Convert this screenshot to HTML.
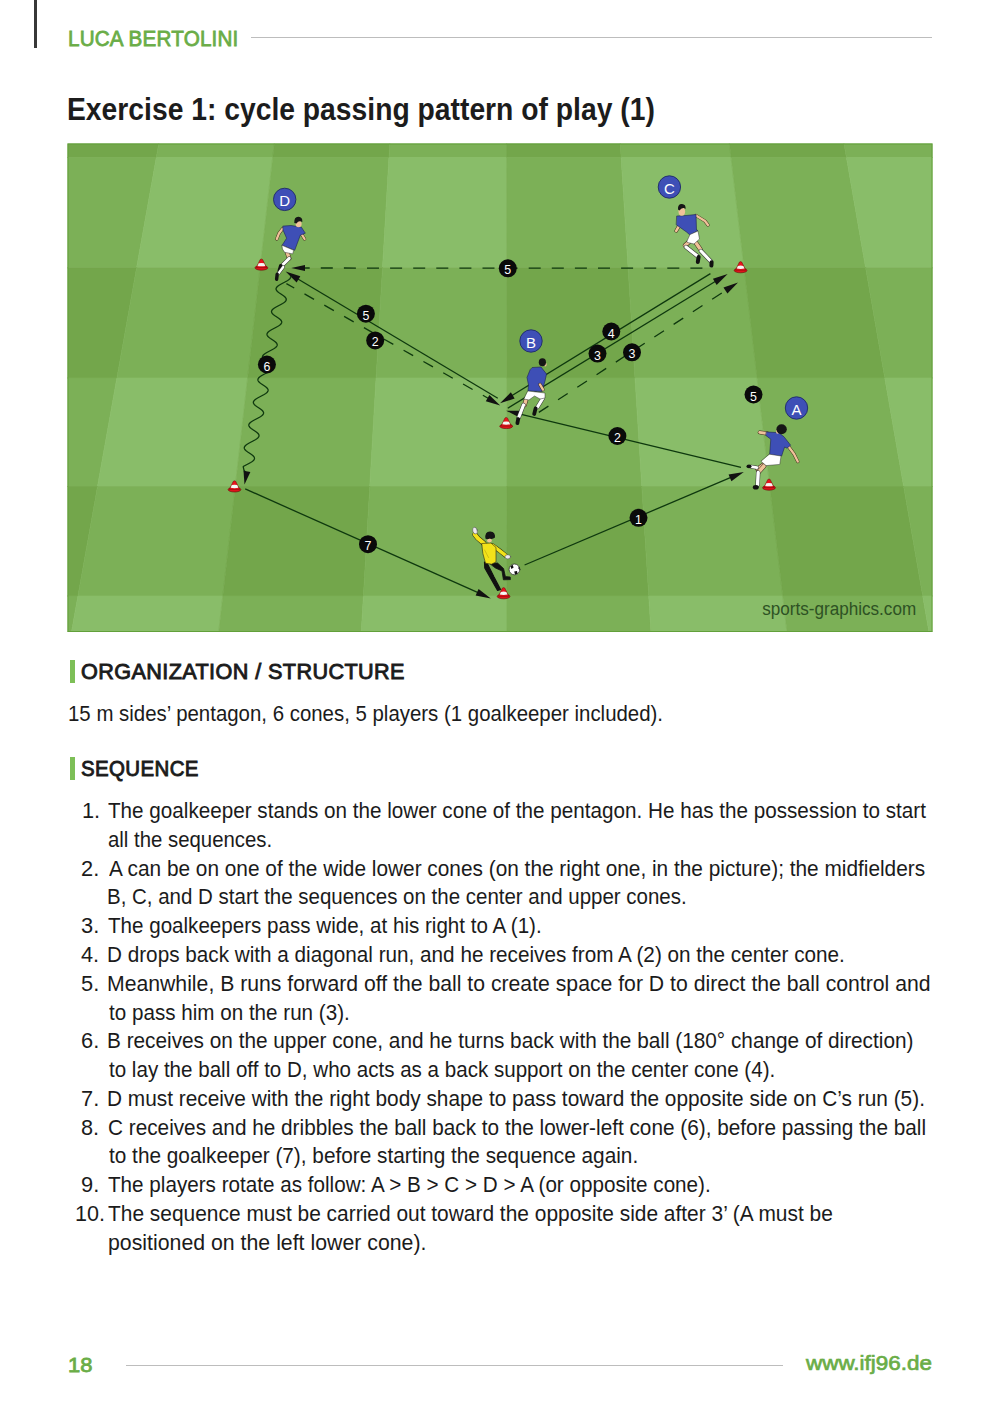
<!DOCTYPE html>
<html><head><meta charset="utf-8"><title>Exercise 1</title>
<style>
html,body{margin:0;padding:0;background:#fff;}
body{width:1000px;height:1428px;position:relative;overflow:hidden;font-family:"Liberation Sans",sans-serif;}
.t{position:absolute;white-space:nowrap;transform-origin:0 0;}
.bar{position:absolute;}
svg text{font-family:"Liberation Sans",sans-serif;}
</style></head><body>
<div class="bar" style="left:34.2px;top:0;width:2.8px;height:48px;background:#383838"></div>
<div class="t" style="left:67.50px;top:25.97px;font-size:22px;line-height:26px;font-weight:normal;color:#6aad47;transform:scaleX(0.9382);-webkit-text-stroke:0.8px #6aad47;letter-spacing:0.2px;">LUCA BERTOLINI</div>
<div class="bar" style="left:250.6px;top:36.7px;width:681.9px;height:1.6px;background:#bdbdbd"></div>
<div class="t" style="left:67.20px;top:90.95px;font-size:31px;line-height:37px;font-weight:bold;color:#1c1c1c;transform:scaleX(0.9122);">Exercise 1: cycle passing pattern of play (1)</div>
<svg style="position:absolute;left:0;top:0" width="1000" height="640" viewBox="0 0 1000 640">
<clipPath id="fc"><rect x="67.5" y="143.5" width="865.0" height="488.5"/></clipPath>
<g clip-path="url(#fc)">
<polygon fill="#73a64b" stroke="#73a64b" stroke-width="0.7" points="37.50,143.50 158.80,143.50 156.30,157.50 37.50,157.50"/>
<polygon fill="#7cb057" stroke="#7cb057" stroke-width="0.7" points="158.80,143.50 274.30,143.50 272.71,157.50 156.30,157.50"/>
<polygon fill="#73a64b" stroke="#73a64b" stroke-width="0.7" points="274.30,143.50 389.80,143.50 388.98,157.50 272.71,157.50"/>
<polygon fill="#7cb057" stroke="#7cb057" stroke-width="0.7" points="389.80,143.50 506.60,143.50 506.61,157.50 388.98,157.50"/>
<polygon fill="#73a64b" stroke="#73a64b" stroke-width="0.7" points="506.60,143.50 620.30,143.50 621.18,157.50 506.61,157.50"/>
<polygon fill="#7cb057" stroke="#7cb057" stroke-width="0.7" points="620.30,143.50 729.40,143.50 731.05,157.50 621.18,157.50"/>
<polygon fill="#73a64b" stroke="#73a64b" stroke-width="0.7" points="729.40,143.50 844.00,143.50 846.44,157.50 731.05,157.50"/>
<polygon fill="#7cb057" stroke="#7cb057" stroke-width="0.7" points="844.00,143.50 962.50,143.50 962.50,157.50 846.44,157.50"/>
<polygon fill="#7cb057" stroke="#7cb057" stroke-width="0.7" points="37.50,157.50 156.30,157.50 136.59,267.80 37.50,267.80"/>
<polygon fill="#89bd69" stroke="#89bd69" stroke-width="0.7" points="156.30,157.50 272.71,157.50 260.15,267.80 136.59,267.80"/>
<polygon fill="#7cb057" stroke="#7cb057" stroke-width="0.7" points="272.71,157.50 388.98,157.50 382.55,267.80 260.15,267.80"/>
<polygon fill="#89bd69" stroke="#89bd69" stroke-width="0.7" points="388.98,157.50 506.61,157.50 506.70,267.80 382.55,267.80"/>
<polygon fill="#7cb057" stroke="#7cb057" stroke-width="0.7" points="506.61,157.50 621.18,157.50 628.11,267.80 506.70,267.80"/>
<polygon fill="#89bd69" stroke="#89bd69" stroke-width="0.7" points="621.18,157.50 731.05,157.50 744.06,267.80 628.11,267.80"/>
<polygon fill="#7cb057" stroke="#7cb057" stroke-width="0.7" points="731.05,157.50 846.44,157.50 865.63,267.80 744.06,267.80"/>
<polygon fill="#89bd69" stroke="#89bd69" stroke-width="0.7" points="846.44,157.50 962.50,157.50 962.50,267.80 865.63,267.80"/>
<polygon fill="#73a64b" stroke="#73a64b" stroke-width="0.7" points="37.50,267.80 136.59,267.80 116.89,378.00 37.50,378.00"/>
<polygon fill="#7cb057" stroke="#7cb057" stroke-width="0.7" points="136.59,267.80 260.15,267.80 247.61,378.00 116.89,378.00"/>
<polygon fill="#73a64b" stroke="#73a64b" stroke-width="0.7" points="260.15,267.80 382.55,267.80 376.12,378.00 247.61,378.00"/>
<polygon fill="#7cb057" stroke="#7cb057" stroke-width="0.7" points="382.55,267.80 506.70,267.80 506.79,378.00 376.12,378.00"/>
<polygon fill="#73a64b" stroke="#73a64b" stroke-width="0.7" points="506.70,267.80 628.11,267.80 635.04,378.00 506.79,378.00"/>
<polygon fill="#7cb057" stroke="#7cb057" stroke-width="0.7" points="628.11,267.80 744.06,267.80 757.05,378.00 635.04,378.00"/>
<polygon fill="#73a64b" stroke="#73a64b" stroke-width="0.7" points="744.06,267.80 865.63,267.80 884.80,378.00 757.05,378.00"/>
<polygon fill="#7cb057" stroke="#7cb057" stroke-width="0.7" points="865.63,267.80 962.50,267.80 962.50,378.00 884.80,378.00"/>
<polygon fill="#7cb057" stroke="#7cb057" stroke-width="0.7" points="37.50,378.00 116.89,378.00 97.50,486.50 37.50,486.50"/>
<polygon fill="#89bd69" stroke="#89bd69" stroke-width="0.7" points="116.89,378.00 247.61,378.00 235.26,486.50 97.50,486.50"/>
<polygon fill="#7cb057" stroke="#7cb057" stroke-width="0.7" points="247.61,378.00 376.12,378.00 369.79,486.50 235.26,486.50"/>
<polygon fill="#89bd69" stroke="#89bd69" stroke-width="0.7" points="376.12,378.00 506.79,378.00 506.88,486.50 369.79,486.50"/>
<polygon fill="#7cb057" stroke="#7cb057" stroke-width="0.7" points="506.79,378.00 635.04,378.00 641.86,486.50 506.88,486.50"/>
<polygon fill="#89bd69" stroke="#89bd69" stroke-width="0.7" points="635.04,378.00 757.05,378.00 769.84,486.50 641.86,486.50"/>
<polygon fill="#7cb057" stroke="#7cb057" stroke-width="0.7" points="757.05,378.00 884.80,378.00 903.68,486.50 769.84,486.50"/>
<polygon fill="#89bd69" stroke="#89bd69" stroke-width="0.7" points="884.80,378.00 962.50,378.00 962.50,486.50 903.68,486.50"/>
<polygon fill="#73a64b" stroke="#73a64b" stroke-width="0.7" points="37.50,486.50 97.50,486.50 77.93,596.00 37.50,596.00"/>
<polygon fill="#7cb057" stroke="#7cb057" stroke-width="0.7" points="97.50,486.50 235.26,486.50 222.80,596.00 77.93,596.00"/>
<polygon fill="#73a64b" stroke="#73a64b" stroke-width="0.7" points="235.26,486.50 369.79,486.50 363.40,596.00 222.80,596.00"/>
<polygon fill="#7cb057" stroke="#7cb057" stroke-width="0.7" points="369.79,486.50 506.88,486.50 506.97,596.00 363.40,596.00"/>
<polygon fill="#73a64b" stroke="#73a64b" stroke-width="0.7" points="506.88,486.50 641.86,486.50 648.74,596.00 506.97,596.00"/>
<polygon fill="#7cb057" stroke="#7cb057" stroke-width="0.7" points="641.86,486.50 769.84,486.50 782.76,596.00 648.74,596.00"/>
<polygon fill="#73a64b" stroke="#73a64b" stroke-width="0.7" points="769.84,486.50 903.68,486.50 922.74,596.00 782.76,596.00"/>
<polygon fill="#7cb057" stroke="#7cb057" stroke-width="0.7" points="903.68,486.50 962.50,486.50 962.50,596.00 922.74,596.00"/>
<polygon fill="#7cb057" stroke="#7cb057" stroke-width="0.7" points="37.50,596.00 77.93,596.00 71.50,632.00 37.50,632.00"/>
<polygon fill="#89bd69" stroke="#89bd69" stroke-width="0.7" points="77.93,596.00 222.80,596.00 218.70,632.00 71.50,632.00"/>
<polygon fill="#7cb057" stroke="#7cb057" stroke-width="0.7" points="222.80,596.00 363.40,596.00 361.30,632.00 218.70,632.00"/>
<polygon fill="#89bd69" stroke="#89bd69" stroke-width="0.7" points="363.40,596.00 506.97,596.00 507.00,632.00 361.30,632.00"/>
<polygon fill="#7cb057" stroke="#7cb057" stroke-width="0.7" points="506.97,596.00 648.74,596.00 651.00,632.00 507.00,632.00"/>
<polygon fill="#89bd69" stroke="#89bd69" stroke-width="0.7" points="648.74,596.00 782.76,596.00 787.00,632.00 651.00,632.00"/>
<polygon fill="#7cb057" stroke="#7cb057" stroke-width="0.7" points="782.76,596.00 922.74,596.00 929.00,632.00 787.00,632.00"/>
<polygon fill="#89bd69" stroke="#89bd69" stroke-width="0.7" points="922.74,596.00 962.50,596.00 962.50,632.00 929.00,632.00"/>
</g>
<rect x="68.0" y="144.0" width="864.0" height="487.5" fill="none" stroke="#62a03a" stroke-width="1"/><line x1="297.70" y1="268.00" x2="702.40" y2="268.20" stroke="#0e380e" stroke-width="1.3" stroke-dasharray="12 11.1"/>
<polygon fill="#111" points="291.20,267.90 305.00,264.90 305.00,270.90"/>
<line x1="295.00" y1="277.20" x2="497.80" y2="398.20" stroke="#0e380e" stroke-width="1.3"/>
<polygon fill="#111" points="285.60,271.60 300.33,276.19 296.64,282.38"/>
<line x1="286.4" y1="283.6" x2="491.5" y2="400.2" stroke="#0e380e" stroke-width="1.3" stroke-dasharray="11 11.8" stroke-dashoffset="2"/>
<polygon fill="#111" points="500.20,405.40 485.82,401.35 489.38,395.09"/>
<line x1="710.40" y1="273.60" x2="508.00" y2="398.00" stroke="#0e380e" stroke-width="1.3"/>
<polygon fill="#111" points="500.00,403.30 510.88,392.36 514.66,398.49"/>
<line x1="507.80" y1="408.20" x2="716.00" y2="281.00" stroke="#0e380e" stroke-width="1.3"/>
<polygon fill="#111" points="727.60,274.00 716.67,284.89 712.92,278.74"/>
<line x1="538.8" y1="412.4" x2="726.0" y2="290.2" stroke="#0e380e" stroke-width="1.3" stroke-dasharray="11.5 11.5" stroke-dashoffset="0"/>
<polygon fill="#111" points="738.00,282.40 727.41,293.61 723.47,287.58"/>
<line x1="741.00" y1="467.40" x2="515.00" y2="412.80" stroke="#0e380e" stroke-width="1.3"/>
<polygon fill="#111" points="506.20,410.70 521.63,410.72 519.94,417.72"/>
<line x1="524.60" y1="565.00" x2="735.00" y2="475.70" stroke="#0e380e" stroke-width="1.3"/>
<polygon fill="#111" points="743.80,472.00 731.40,481.17 728.59,474.54"/>
<line x1="245.20" y1="488.90" x2="482.00" y2="594.40" stroke="#0e380e" stroke-width="1.3"/>
<polygon fill="#111" points="490.80,598.40 475.63,595.58 478.57,589.00"/>
<path d="M290.69,276.00 L290.80,276.50 L290.79,277.00 L290.67,277.50 L290.43,278.00 L290.07,278.50 L289.60,279.00 L289.03,279.50 L288.37,280.00 L287.62,280.50 L286.80,281.00 L285.92,281.50 L285.00,282.00 L284.06,282.50 L283.10,283.00 L282.15,283.50 L281.22,284.00 L280.33,284.50 L279.49,285.00 L278.72,285.50 L278.03,286.00 L277.43,286.50 L276.93,287.00 L276.54,287.50 L276.26,288.00 L276.10,288.50 L276.06,289.00 L276.14,289.50 L276.33,290.00 L276.63,290.50 L277.03,291.00 L277.52,291.50 L278.09,292.00 L278.73,292.50 L279.42,293.00 L280.15,293.50 L280.90,294.00 L281.66,294.50 L282.40,295.00 L283.12,295.50 L283.80,296.00 L284.42,296.50 L284.97,297.00 L285.43,297.50 L285.80,298.00 L286.07,298.50 L286.23,299.00 L286.27,299.50 L286.19,300.00 L286.00,300.50 L285.69,301.00 L285.26,301.50 L284.73,302.00 L284.11,302.50 L283.39,303.00 L282.60,303.50 L281.74,304.00 L280.84,304.50 L279.90,305.00 L278.94,305.50 L277.99,306.00 L277.05,306.50 L276.14,307.00 L275.28,307.50 L274.48,308.00 L273.75,308.50 L273.11,309.00 L272.57,309.50 L272.14,310.00 L271.82,310.50 L271.61,311.00 L271.52,311.50 L271.55,312.00 L271.70,312.50 L271.95,313.00 L272.31,313.50 L272.77,314.00 L273.31,314.50 L273.92,315.00 L274.60,315.50 L275.31,316.00 L276.06,316.50 L276.81,317.00 L277.57,317.50 L278.30,318.00 L279.00,318.50 L279.64,319.00 L280.22,319.50 L280.72,320.00 L281.13,320.50 L281.44,321.00 L281.64,321.50 L281.73,322.00 L281.70,322.50 L281.55,323.00 L281.29,323.50 L280.91,324.00 L280.42,324.50 L279.83,325.00 L279.15,325.50 L278.38,326.00 L277.55,326.50 L276.66,327.00 L275.74,327.50 L274.79,328.00 L273.83,328.50 L272.88,329.00 L271.96,329.50 L271.07,330.00 L270.25,330.50 L269.49,331.00 L268.82,331.50 L268.24,332.00 L267.76,332.50 L267.39,333.00 L267.14,333.50 L267.00,334.00 L266.99,334.50 L267.09,335.00 L267.30,335.50 L267.62,336.00 L268.04,336.50 L268.55,337.00 L269.13,337.50 L269.78,338.00 L270.48,338.50 L271.22,339.00 L271.97,339.50 L272.73,340.00 L273.47,340.50 L274.18,341.00 L274.85,341.50 L275.46,342.00 L275.99,342.50 L276.44,343.00 L276.79,343.50 L277.03,344.00 L277.17,344.50 L277.19,345.00 L277.09,345.50 L276.87,346.00 L276.53,346.50 L276.09,347.00 L275.54,347.50 L274.89,348.00 L274.16,348.50 L273.35,349.00 L272.48,349.50 L271.57,350.00 L270.63,350.50 L269.67,351.00 L268.72,351.50 L267.78,352.00 L266.88,352.50 L266.03,353.00 L265.25,353.50 L264.54,354.00 L263.92,354.50 L263.40,355.00 L262.99,355.50 L262.69,356.00 L262.50,356.50 L262.44,357.00 L262.49,357.50 L262.66,358.00 L262.94,358.50 L263.32,359.00 L263.79,359.50 L264.35,360.00 L264.97,360.50 L265.66,361.00 L266.38,361.50 L267.13,362.00 L267.89,362.50 L268.64,363.00 L269.36,363.50 L270.05,364.00 L270.68,364.50 L271.25,365.00 L271.73,365.50 L272.12,366.00 L272.41,366.50 L272.59,367.00 L272.65,367.50 L272.60,368.00 L272.43,368.50 L272.14,369.00 L271.74,369.50 L271.23,370.00 L270.62,370.50 L269.92,371.00 L269.14,371.50 L268.30,372.00 L267.40,372.50 L266.47,373.00 L265.51,373.50 L264.56,374.00 L263.61,374.50 L262.70,375.00 L261.82,375.50 L261.01,376.00 L260.27,376.50 L259.61,377.00 L259.05,377.50 L258.60,378.00 L258.25,378.50 L258.02,379.00 L257.91,379.50 L257.92,380.00 L258.04,380.50 L258.27,381.00 L258.61,381.50 L259.05,382.00 L259.58,382.50 L260.18,383.00 L260.84,383.50 L261.55,384.00 L262.29,384.50 L263.04,385.00 L263.80,385.50 L264.54,386.00 L265.24,386.50 L265.90,387.00 L266.49,387.50 L267.01,388.00 L267.43,388.50 L267.76,389.00 L267.99,389.50 L268.10,390.00 L268.09,390.50 L267.97,391.00 L267.73,391.50 L267.37,392.00 L266.90,392.50 L266.33,393.00 L265.67,393.50 L264.92,394.00 L264.10,394.50 L263.22,395.00 L262.30,395.50 L261.36,396.00 L260.40,396.50 L259.45,397.00 L258.52,397.50 L257.63,398.00 L256.79,398.50 L256.02,399.00 L255.33,399.50 L254.73,400.00 L254.23,400.50 L253.84,401.00 L253.56,401.50 L253.40,402.00 L253.36,402.50 L253.44,403.00 L253.63,403.50 L253.93,404.00 L254.33,404.50 L254.82,405.00 L255.39,405.50 L256.03,406.00 L256.72,406.50 L257.45,407.00 L258.20,407.50 L258.96,408.00 L259.70,408.50 L260.42,409.00 L261.10,409.50 L261.72,410.00 L262.27,410.50 L262.73,411.00 L263.10,411.50 L263.37,412.00 L263.53,412.50 L263.57,413.00 L263.49,413.50 L263.30,414.00 L262.99,414.50 L262.56,415.00 L262.03,415.50 L261.41,416.00 L260.69,416.50 L259.90,417.00 L259.04,417.50 L258.14,418.00 L257.20,418.50 L256.24,419.00 L255.29,419.50 L254.35,420.00 L253.44,420.50 L252.58,421.00 L251.78,421.50 L251.05,422.00 L250.41,422.50 L249.87,423.00 L249.44,423.50 L249.12,424.00 L248.91,424.50 L248.82,425.00 L248.85,425.50 L249.00,426.00 L249.25,426.50 L249.61,427.00 L250.07,427.50 L250.61,428.00 L251.22,428.50 L251.90,429.00 L252.61,429.50 L253.36,430.00 L254.11,430.50 L254.87,431.00 L255.60,431.50 L256.30,432.00 L256.94,432.50 L257.52,433.00 L258.02,433.50 L258.43,434.00 L258.74,434.50 L258.94,435.00 L259.03,435.50 L259.00,436.00 L258.85,436.50 L258.59,437.00 L258.21,437.50 L257.72,438.00 L257.13,438.50 L256.45,439.00 L255.68,439.50 L254.85,440.00 L253.96,440.50 L253.04,441.00 L252.09,441.50 L251.13,442.00 L250.18,442.50 L249.26,443.00 L248.37,443.50 L247.55,444.00 L246.79,444.50 L246.12,445.00 L245.54,445.50 L245.06,446.00 L244.69,446.50 L244.44,447.00 L244.30,447.50 L244.29,448.00 L244.39,448.50 L244.60,449.00 L244.92,449.50 L245.34,450.00 L245.85,450.50 L246.43,451.00 L247.08,451.50 L247.78,452.00 L248.52,452.50 L249.27,453.00 L250.03,453.50 L250.77,454.00 L251.48,454.50 L252.15,455.00 L252.76,455.50 L253.29,456.00 L253.74,456.50 L254.09,457.00 L254.33,457.50 L254.47,458.00 L254.49,458.50 L254.39,459.00 L254.17,459.50 L253.83,460.00 L253.39,460.50 L252.84,461.00 L252.19,461.50 L251.46,462.00 L250.65,462.50 L249.78,463.00 L248.87,463.50 L247.93,464.00 L246.97,464.50 L246.02,465.00 L245.08,465.50 L244.18,466.00 L243.33,466.50 Q243,470 246.2,473" fill="none" stroke="#0e380e" stroke-width="1.3"/><polygon fill="#111" points="244.50,484.60 243.50,470.69 250.38,471.96"/>
<g><ellipse cx="261.40" cy="267.80" rx="6.40" ry="2.4" fill="#e0121a" stroke="#6a0808" stroke-width="0.6"/><path d="M256.28,267.60 L260.20,259.50 Q261.40,258.50 262.60,259.50 L266.52,267.60 Z" fill="#e8141c" stroke="#6a0808" stroke-width="0.5"/><path d="M257.50,265.90 L258.70,263.30 Q261.40,262.70 264.10,263.30 L265.30,265.90 Q261.40,266.80 257.50,265.90 Z" fill="#f4f8f4"/></g>
<g><ellipse cx="740.60" cy="270.40" rx="6.40" ry="2.4" fill="#e0121a" stroke="#6a0808" stroke-width="0.6"/><path d="M735.48,270.20 L739.40,262.10 Q740.60,261.10 741.80,262.10 L745.72,270.20 Z" fill="#e8141c" stroke="#6a0808" stroke-width="0.5"/><path d="M736.70,268.50 L737.90,265.90 Q740.60,265.30 743.30,265.90 L744.50,268.50 Q740.60,269.40 736.70,268.50 Z" fill="#f4f8f4"/></g>
<g><ellipse cx="506.20" cy="426.20" rx="6.40" ry="2.4" fill="#e0121a" stroke="#6a0808" stroke-width="0.6"/><path d="M501.08,426.00 L505.00,417.90 Q506.20,416.90 507.40,417.90 L511.32,426.00 Z" fill="#e8141c" stroke="#6a0808" stroke-width="0.5"/><path d="M502.30,424.30 L503.50,421.70 Q506.20,421.10 508.90,421.70 L510.10,424.30 Q506.20,425.20 502.30,424.30 Z" fill="#f4f8f4"/></g>
<g><ellipse cx="769.00" cy="487.80" rx="6.40" ry="2.4" fill="#e0121a" stroke="#6a0808" stroke-width="0.6"/><path d="M763.88,487.60 L767.80,479.50 Q769.00,478.50 770.20,479.50 L774.12,487.60 Z" fill="#e8141c" stroke="#6a0808" stroke-width="0.5"/><path d="M765.10,485.90 L766.30,483.30 Q769.00,482.70 771.70,483.30 L772.90,485.90 Q769.00,486.80 765.10,485.90 Z" fill="#f4f8f4"/></g>
<g><ellipse cx="234.50" cy="489.60" rx="6.40" ry="2.4" fill="#e0121a" stroke="#6a0808" stroke-width="0.6"/><path d="M229.38,489.40 L233.30,481.30 Q234.50,480.30 235.70,481.30 L239.62,489.40 Z" fill="#e8141c" stroke="#6a0808" stroke-width="0.5"/><path d="M230.60,487.70 L231.80,485.10 Q234.50,484.50 237.20,485.10 L238.40,487.70 Q234.50,488.60 230.60,487.70 Z" fill="#f4f8f4"/></g>
<g><ellipse cx="503.60" cy="596.40" rx="6.40" ry="2.4" fill="#e0121a" stroke="#6a0808" stroke-width="0.6"/><path d="M498.48,596.20 L502.40,588.10 Q503.60,587.10 504.80,588.10 L508.72,596.20 Z" fill="#e8141c" stroke="#6a0808" stroke-width="0.5"/><path d="M499.70,594.50 L500.90,591.90 Q503.60,591.30 506.30,591.90 L507.50,594.50 Q503.60,595.40 499.70,594.50 Z" fill="#f4f8f4"/></g>
<g stroke-linejoin="round" stroke-linecap="round">
<!-- Player D -->
<g>
<path d="M287,252 L289.2,258.4" stroke="#3b2a1a" stroke-width="4.4"/>
<path d="M287,252 L289.2,258.4" stroke="#f0c29a" stroke-width="3.4"/>
<path d="M289.2,258.4 L281,266.5" stroke="#333" stroke-width="4"/>
<path d="M289.2,258.4 L281,266.5" stroke="#fff" stroke-width="3"/>
<path d="M280.8,265.8 L279.3,270.8" stroke="#111" stroke-width="3.6"/>
<path d="M283.2,267 L277.6,274.6" stroke="#333" stroke-width="3.4"/>
<path d="M283.2,267 L277.6,274.6" stroke="#fff" stroke-width="2.4"/>
<path d="M277.2,274.2 L276.6,279.2" stroke="#111" stroke-width="3.4"/>
<path d="M282.6,228.6 L279.1,233.2 L276.8,239" fill="none" stroke="#3b2a1a" stroke-width="3.2"/>
<path d="M282.6,228.6 L279.1,233.2 L276.8,239" fill="none" stroke="#f0c29a" stroke-width="2.3"/>
<path d="M301.3,233.7 L304.6,239" stroke="#3b2a1a" stroke-width="3.2"/>
<path d="M301.3,233.7 L304.6,239" stroke="#f0c29a" stroke-width="2.3"/>
<path d="M283.1,226.1 L291,225.5 L301.3,227.1 L305.3,233.2 L300.3,235.2 L294.7,250.3 L282.1,245.3 L286.6,238.2 L283.1,230.2 Z" fill="#3e4fb6" stroke="#1d2250" stroke-width="0.6"/>
<path d="M282.1,245.3 L293.7,250.3 L292.7,253.9 L284.6,252.3 L282.6,249.3 Z" fill="#fff" stroke="#333" stroke-width="0.5"/>
<ellipse cx="298.6" cy="224" rx="3" ry="3.3" fill="#f0c29a"/>
<path d="M294.3,223 Q294,216.6 298.5,216.8 Q302.8,217 302.3,222 L300.5,221.2 Q298,220.8 296.5,223.6 Z" fill="#161616"/>
</g>
<!-- Player C -->
<g>
<path d="M690,241 L685,245.5" stroke="#3b2a1a" stroke-width="4.4"/>
<path d="M690,241 L685,245.5" stroke="#f0c29a" stroke-width="3.4"/>
<path d="M686,247 L698,256.5" stroke="#333" stroke-width="4.2"/>
<path d="M686,247 L698,256.5" stroke="#fff" stroke-width="3.2"/>
<path d="M698.6,257 L697.8,262" stroke="#111" stroke-width="4"/>
<path d="M696,243 L700.5,249.5" stroke="#3b2a1a" stroke-width="4.4"/>
<path d="M696,243 L700.5,249.5" stroke="#f0c29a" stroke-width="3.4"/>
<path d="M701,251 L711,261.5" stroke="#333" stroke-width="4.2"/>
<path d="M701,251 L711,261.5" stroke="#fff" stroke-width="3.2"/>
<path d="M711.6,262.2 L711.4,265.6" stroke="#111" stroke-width="4"/>
<path d="M696,215.5 L705,221 L708,225" fill="none" stroke="#3b2a1a" stroke-width="3.2"/>
<path d="M696,215.5 L705,221 L708,225" fill="none" stroke="#f0c29a" stroke-width="2.3"/>
<path d="M679,226 L676.2,230.8" stroke="#3b2a1a" stroke-width="3.6"/>
<path d="M679,226 L676.2,230.8" stroke="#f0c29a" stroke-width="2.6"/>
<path d="M677,216 L686,215.5 L696,214.5 L696.5,230 L698,230.5 L690,235 L686.5,232 L679.5,227 L676.5,225 Z" fill="#3e4fb6" stroke="#1d2250" stroke-width="0.6"/>
<path d="M687,241 L690,234.5 L698,231 L699.5,239 L694,244 L687.5,242.5 Z" fill="#fff" stroke="#333" stroke-width="0.5"/>
<ellipse cx="681.8" cy="211.6" rx="3.3" ry="4.2" fill="#f0c29a"/>
<path d="M678,209.5 Q677.6,203.8 682,204 Q686,204.2 685.6,209 L684,208 Q681,207.6 679.6,210.6 Z" fill="#161616"/>
</g>
<!-- Player B -->
<g>
<path d="M526,400 L524.5,405" stroke="#3b2a1a" stroke-width="4.4"/>
<path d="M526,400 L524.5,405" stroke="#f0c29a" stroke-width="3.4"/>
<path d="M523.5,405 L518.5,418" stroke="#333" stroke-width="4.2"/>
<path d="M523.5,405 L518.5,418" stroke="#fff" stroke-width="3.2"/>
<path d="M518.2,419 L517.4,423.2" stroke="#111" stroke-width="3.8"/>
<path d="M543,398 L537.5,407" stroke="#333" stroke-width="4.2"/>
<path d="M543,398 L537.5,407" stroke="#fff" stroke-width="3.2"/>
<path d="M535.6,408.4 L534.2,414" stroke="#111" stroke-width="3.8"/>
<path d="M532.5,367.5 L541,367 L546.5,374 L545,381 L542,391.5 L528,391 L528.5,385 L527,377.5 L530,370 Z" fill="#3e4fb6" stroke="#1d2250" stroke-width="0.6"/>
<path d="M540,384.5 L543,389.6" stroke="#3b2a1a" stroke-width="3.4"/>
<path d="M540,384.5 L543,389.6" stroke="#f0c29a" stroke-width="2.4"/>
<path d="M528,391 L545,393 L545,398 L540,399 L534.5,396 L529,400 L524,399 Z" fill="#fff" stroke="#333" stroke-width="0.5"/>
<ellipse cx="545.2" cy="364.5" rx="1.4" ry="2" fill="#f0c29a"/>
<ellipse cx="542.4" cy="362.2" rx="3.6" ry="4" fill="#161616"/>
</g>
<!-- Player A -->
<g>
<path d="M763,465 L757.5,469" stroke="#3b2a1a" stroke-width="4.4"/>
<path d="M763,465 L757.5,469" stroke="#f0c29a" stroke-width="3.4"/>
<path d="M757,467.6 L751,466.6" stroke="#333" stroke-width="3.6"/>
<path d="M757,467.6 L751,466.6" stroke="#fff" stroke-width="2.6"/>
<ellipse cx="749" cy="466.4" rx="2.6" ry="1.8" fill="#111"/>
<path d="M764,466 L758.6,472" stroke="#3b2a1a" stroke-width="4.6"/>
<path d="M764,466 L758.6,472" stroke="#f0c29a" stroke-width="3.6"/>
<path d="M758.2,472.5 L757.6,484.6" stroke="#333" stroke-width="4.4"/>
<path d="M758.2,472.5 L757.6,484.6" stroke="#fff" stroke-width="3.4"/>
<ellipse cx="755.8" cy="487.2" rx="3" ry="2.3" fill="#111"/>
<path d="M767.5,433.5 L759.6,432.4" stroke="#3b2a1a" stroke-width="3.8"/>
<path d="M767.5,433.5 L759.6,432.4" stroke="#f0c29a" stroke-width="2.8"/>
<path d="M788.5,446.5 L794,454 L797.8,461.6" fill="none" stroke="#3b2a1a" stroke-width="3.2"/>
<path d="M788.5,446.5 L794,454 L797.8,461.6" fill="none" stroke="#f0c29a" stroke-width="2.3"/>
<path d="M766.6,432 L778.6,432.6 L784,436.8 L790.6,445.2 L787,448.2 L784.6,447 L781.6,456 L769.6,454.8 L770.8,439.2 L766,435.6 Z" fill="#3e4fb6" stroke="#1d2250" stroke-width="0.6"/>
<path d="M769.6,454.2 L781,456 L779.8,464.4 L766,465.6 L761.2,461.4 Z" fill="#fff" stroke="#333" stroke-width="0.5"/>
<ellipse cx="777.6" cy="431.5" rx="1.6" ry="2.2" fill="#f0c29a"/>
<ellipse cx="781.6" cy="429.2" rx="5.2" ry="5" fill="#161616"/>
</g>
<!-- GK -->
<g>
<path d="M484.5,562 L487.5,564 L494,577 L500.6,589.5 L497.6,590.5 L490.5,578 L484.8,568 Z" fill="#111" stroke="#111" stroke-width="1.2"/>
<path d="M490,563.5 L497.5,563 L503.6,568.6 L505.4,576.6 L510.2,577 L510.4,579.6 L503.4,579.8 L502,571 L495.5,568 Z" fill="#111" stroke="#111" stroke-width="0.8"/>
<path d="M484,543.5 L477.8,538.2 L474.8,534.4" fill="none" stroke="#2c2a10" stroke-width="5"/>
<path d="M484,543.5 L477.8,538.2 L474.8,534.4" fill="none" stroke="#f2e21a" stroke-width="4"/>
<path d="M492.5,545.5 L499.5,550.6 L505.6,555.4" fill="none" stroke="#2c2a10" stroke-width="4.4"/>
<path d="M492.5,545.5 L499.5,550.6 L505.6,555.4" fill="none" stroke="#f2e21a" stroke-width="3.5"/>
<path d="M482,543.5 L491,543 L496,547.5 L496,562 L491.5,564.2 L485.5,563.2 L483,554 Z" fill="#f2e21a" stroke="#2c2a10" stroke-width="0.6"/>
<path d="M484.6,550 L488.6,557.6" stroke="#b8a410" stroke-width="0.6"/>
<ellipse cx="475" cy="530.6" rx="2.3" ry="3.4" fill="#eceaf0" stroke="#444" stroke-width="0.5" transform="rotate(-15 475 530.6)"/>
<ellipse cx="507.8" cy="556.8" rx="2.8" ry="2.1" fill="#eceaf0" stroke="#444" stroke-width="0.5"/>
<ellipse cx="489.4" cy="540.6" rx="2.4" ry="2" fill="#f0c29a"/>
<path d="M485.4,538.6 Q484.6,531 490.4,531.4 Q495.6,531.8 495,537.6 Q492.5,539.6 489.5,538.6 Q487.5,539.8 485.4,538.6 Z" fill="#161616"/>
<circle cx="514.5" cy="569.4" r="5.4" fill="#fff" stroke="#222" stroke-width="0.7"/>
<path d="M510.4,566.2 L512.6,564.8 L513.6,567.4 L511.4,569 Z" fill="#111"/>
<path d="M514.2,571.6 L517,571 L517.6,573.8 L515,574.6 Z M518.6,566.6 L519.8,567.4 L519.6,569.6 L518.4,568.8 Z" fill="#111"/>
</g>
</g>

<circle cx="284.7" cy="199.4" r="11.2" fill="#3e4fb6" stroke="#1f2a66" stroke-width="0.9"/><text x="284.7" y="206.20" font-size="15" fill="#fff" text-anchor="middle">D</text>
<circle cx="669.4" cy="187.0" r="11.2" fill="#3e4fb6" stroke="#1f2a66" stroke-width="0.9"/><text x="669.4" y="193.80" font-size="15" fill="#fff" text-anchor="middle">C</text>
<circle cx="531.0" cy="341.0" r="11.2" fill="#3e4fb6" stroke="#1f2a66" stroke-width="0.9"/><text x="531.0" y="347.80" font-size="15" fill="#fff" text-anchor="middle">B</text>
<circle cx="796.5" cy="408.0" r="11.2" fill="#3e4fb6" stroke="#1f2a66" stroke-width="0.9"/><text x="796.5" y="414.80" font-size="15" fill="#fff" text-anchor="middle">A</text>
<circle cx="507.8" cy="268.3" r="9" fill="#0a0a0a"/><text x="507.8" y="274.30" font-size="12.4" fill="#fff" text-anchor="middle">5</text>
<circle cx="365.9" cy="313.7" r="9" fill="#0a0a0a"/><text x="365.9" y="319.70" font-size="12.4" fill="#fff" text-anchor="middle">5</text>
<circle cx="375.2" cy="340.4" r="9" fill="#0a0a0a"/><text x="375.2" y="346.40" font-size="12.4" fill="#fff" text-anchor="middle">2</text>
<circle cx="266.9" cy="364.5" r="9" fill="#0a0a0a"/><text x="266.9" y="370.50" font-size="12.4" fill="#fff" text-anchor="middle">6</text>
<circle cx="611.3" cy="331.5" r="9" fill="#0a0a0a"/><text x="611.3" y="337.50" font-size="12.4" fill="#fff" text-anchor="middle">4</text>
<circle cx="597.5" cy="353.6" r="9" fill="#0a0a0a"/><text x="597.5" y="359.60" font-size="12.4" fill="#fff" text-anchor="middle">3</text>
<circle cx="632.0" cy="352.3" r="9" fill="#0a0a0a"/><text x="632.0" y="358.30" font-size="12.4" fill="#fff" text-anchor="middle">3</text>
<circle cx="753.5" cy="394.5" r="9" fill="#0a0a0a"/><text x="753.5" y="400.50" font-size="12.4" fill="#fff" text-anchor="middle">5</text>
<circle cx="617.4" cy="436.0" r="9" fill="#0a0a0a"/><text x="617.4" y="442.00" font-size="12.4" fill="#fff" text-anchor="middle">2</text>
<circle cx="638.5" cy="517.8" r="9" fill="#0a0a0a"/><text x="638.5" y="523.80" font-size="12.4" fill="#fff" text-anchor="middle">1</text>
<circle cx="368.0" cy="544.2" r="9" fill="#0a0a0a"/><text x="368.0" y="550.20" font-size="12.4" fill="#fff" text-anchor="middle">7</text>
<text x="762.2" y="614.8" font-size="18" fill="#2e5224" textLength="154" lengthAdjust="spacingAndGlyphs">sports-graphics.com</text>
</svg>
<div class="bar" style="left:69.5px;top:660px;width:5.3px;height:22.6px;background:#7dbf57"></div>
<div class="t" style="left:80.50px;top:658.85px;font-size:21.5px;line-height:26px;font-weight:normal;color:#1b1b1b;transform:scaleX(1.0053);-webkit-text-stroke:0.9px #1b1b1b;letter-spacing:0.4px;">ORGANIZATION / STRUCTURE</div>
<div class="t" style="left:67.50px;top:700.95px;font-size:21.5px;line-height:26px;font-weight:normal;color:#1b1b1b;transform:scaleX(0.9495);">15 m sides’ pentagon, 6 cones, 5 players (1 goalkeeper included).</div>
<div class="bar" style="left:69.7px;top:757.2px;width:5.0px;height:22.5px;background:#7dbf57"></div>
<div class="t" style="left:80.50px;top:755.55px;font-size:21.5px;line-height:26px;font-weight:normal;color:#1b1b1b;transform:scaleX(0.9510);-webkit-text-stroke:0.9px #1b1b1b;letter-spacing:0.4px;">SEQUENCE</div>
<div class="t" style="left:107.50px;top:798.15px;font-size:21.5px;line-height:26px;font-weight:normal;color:#1b1b1b;transform:scaleX(0.9612);">The goalkeeper stands on the lower cone of the pentagon. He has the possession to start</div>
<div class="t" style="left:81.50px;top:798.15px;font-size:21.5px;line-height:26px;font-weight:normal;color:#1b1b1b;transform:scaleX(1.0115);">1.</div>
<div class="t" style="left:107.50px;top:826.92px;font-size:21.5px;line-height:26px;font-weight:normal;color:#1b1b1b;transform:scaleX(0.9470);">all the sequences.</div>
<div class="t" style="left:108.50px;top:855.69px;font-size:21.5px;line-height:26px;font-weight:normal;color:#1b1b1b;transform:scaleX(0.9686);">A can be on one of the wide lower cones (on the right one, in the picture); the midfielders</div>
<div class="t" style="left:80.50px;top:855.69px;font-size:21.5px;line-height:26px;font-weight:normal;color:#1b1b1b;transform:scaleX(1.0147);">2.</div>
<div class="t" style="left:106.50px;top:884.46px;font-size:21.5px;line-height:26px;font-weight:normal;color:#1b1b1b;transform:scaleX(0.9529);">B, C, and D start the sequences on the center and upper cones.</div>
<div class="t" style="left:107.50px;top:913.23px;font-size:21.5px;line-height:26px;font-weight:normal;color:#1b1b1b;transform:scaleX(0.9575);">The goalkeepers pass wide, at his right to A (1).</div>
<div class="t" style="left:80.50px;top:913.23px;font-size:21.5px;line-height:26px;font-weight:normal;color:#1b1b1b;transform:scaleX(1.0147);">3.</div>
<div class="t" style="left:106.50px;top:942.00px;font-size:21.5px;line-height:26px;font-weight:normal;color:#1b1b1b;transform:scaleX(0.9631);">D drops back with a diagonal run, and he receives from A (2) on the center cone.</div>
<div class="t" style="left:80.50px;top:942.00px;font-size:21.5px;line-height:26px;font-weight:normal;color:#1b1b1b;transform:scaleX(1.0100);">4.</div>
<div class="t" style="left:106.50px;top:970.77px;font-size:21.5px;line-height:26px;font-weight:normal;color:#1b1b1b;transform:scaleX(0.9864);">Meanwhile, B runs forward off the ball to create space for D to direct the ball control and</div>
<div class="t" style="left:80.50px;top:970.77px;font-size:21.5px;line-height:26px;font-weight:normal;color:#1b1b1b;transform:scaleX(1.0147);">5.</div>
<div class="t" style="left:108.50px;top:999.54px;font-size:21.5px;line-height:26px;font-weight:normal;color:#1b1b1b;transform:scaleX(0.9594);">to pass him on the run (3).</div>
<div class="t" style="left:106.50px;top:1028.31px;font-size:21.5px;line-height:26px;font-weight:normal;color:#1b1b1b;transform:scaleX(0.9664);">B receives on the upper cone, and he turns back with the ball (180° change of direction)</div>
<div class="t" style="left:80.50px;top:1028.31px;font-size:21.5px;line-height:26px;font-weight:normal;color:#1b1b1b;transform:scaleX(1.0147);">6.</div>
<div class="t" style="left:108.50px;top:1057.08px;font-size:21.5px;line-height:26px;font-weight:normal;color:#1b1b1b;transform:scaleX(0.9567);">to lay the ball off to D, who acts as a back support on the center cone (4).</div>
<div class="t" style="left:106.50px;top:1085.85px;font-size:21.5px;line-height:26px;font-weight:normal;color:#1b1b1b;transform:scaleX(0.9685);">D must receive with the right body shape to pass toward the opposite side on C’s run (5).</div>
<div class="t" style="left:80.50px;top:1085.85px;font-size:21.5px;line-height:26px;font-weight:normal;color:#1b1b1b;transform:scaleX(1.0147);">7.</div>
<div class="t" style="left:107.50px;top:1114.62px;font-size:21.5px;line-height:26px;font-weight:normal;color:#1b1b1b;transform:scaleX(0.9654);">C receives and he dribbles the ball back to the lower-left cone (6), before passing the ball</div>
<div class="t" style="left:80.50px;top:1114.62px;font-size:21.5px;line-height:26px;font-weight:normal;color:#1b1b1b;transform:scaleX(1.0100);">8.</div>
<div class="t" style="left:108.50px;top:1143.39px;font-size:21.5px;line-height:26px;font-weight:normal;color:#1b1b1b;transform:scaleX(0.9667);">to the goalkeeper (7), before starting the sequence again.</div>
<div class="t" style="left:107.50px;top:1172.16px;font-size:21.5px;line-height:26px;font-weight:normal;color:#1b1b1b;transform:scaleX(0.9606);">The players rotate as follow: A &gt; B &gt; C &gt; D &gt; A (or opposite cone).</div>
<div class="t" style="left:80.50px;top:1172.16px;font-size:21.5px;line-height:26px;font-weight:normal;color:#1b1b1b;transform:scaleX(1.0147);">9.</div>
<div class="t" style="left:107.50px;top:1200.93px;font-size:21.5px;line-height:26px;font-weight:normal;color:#1b1b1b;transform:scaleX(0.9730);">The sequence must be carried out toward the opposite side after 3’ (A must be</div>
<div class="t" style="left:75.00px;top:1200.93px;font-size:21.5px;line-height:26px;font-weight:normal;color:#1b1b1b;transform:scaleX(1.0015);">10.</div>
<div class="t" style="left:107.50px;top:1229.70px;font-size:21.5px;line-height:26px;font-weight:normal;color:#1b1b1b;transform:scaleX(0.9905);">positioned on the left lower cone).</div>
<div class="t" style="left:68.00px;top:1352.02px;font-size:21px;line-height:25px;font-weight:normal;color:#6aad47;transform:scaleX(1.0455);-webkit-text-stroke:0.8px #6aad47;">18</div>
<div class="bar" style="left:126px;top:1364.5px;width:657px;height:1.6px;background:#bdbdbd"></div>
<div class="t" style="left:806.00px;top:1350.22px;font-size:21px;line-height:25px;font-weight:normal;color:#6aad47;transform:scaleX(1.0684);-webkit-text-stroke:0.7px #6aad47;">www.ifj96.de</div>
</body></html>
